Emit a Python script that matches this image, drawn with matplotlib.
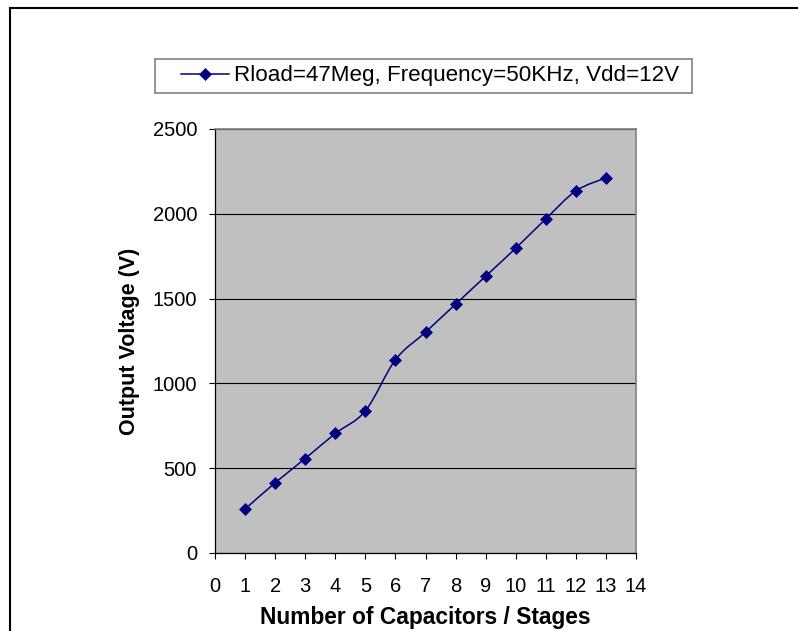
import matplotlib
matplotlib.use("Agg")
import matplotlib.pyplot as plt
from matplotlib.path import Path
from matplotlib.patches import PathPatch, Rectangle
from matplotlib.lines import Line2D

# Measured output of the multiplier for each number of stages
stages = [1, 2, 3, 4, 5, 6, 7, 8, 9, 10, 11, 12, 13]
output_voltage = [259, 414, 557, 705, 838, 1139, 1302, 1467, 1632, 1797, 1970, 2135, 2212]
series_label = "Rload=47Meg, Frequency=50KHz, Vdd=12V"
x_ticks = list(range(0, 15))
y_ticks = [0, 500, 1000, 1500, 2000, 2500]
x_title = "Number of Capacitors / Stages"
y_title = "Output Voltage (V)"

plt.rcParams['font.family'] = ['Liberation Sans', 'DejaVu Sans']

W, H = 798, 631
fig = plt.figure(figsize=(W / 100, H / 100), dpi=100)
fig.patch.set_facecolor('white')

NAVY = '#000080'


def smooth_path(xs, ys):
    """Catmull-Rom style smoothed curve through the points as cubic Beziers."""
    pts = list(zip(xs, ys))
    n = len(pts)
    verts = [pts[0]]
    codes = [Path.MOVETO]
    for i in range(n - 1):
        p0 = pts[i - 1] if i > 0 else pts[i]
        p1 = pts[i]
        p2 = pts[i + 1]
        p3 = pts[i + 2] if i + 2 < n else pts[i + 1]
        c1 = (p1[0] + (p2[0] - p0[0]) / 6.0, p1[1] + (p2[1] - p0[1]) / 6.0)
        c2 = (p2[0] - (p3[0] - p1[0]) / 6.0, p2[1] - (p3[1] - p1[1]) / 6.0)
        verts += [c1, c2, p2]
        codes += [Path.CURVE4] * 3
    return Path(verts, codes)


# Plot area
ax = fig.add_axes([215 / W, 1 - 553 / H, 421 / W, 424 / H])
ax.set_facecolor('#C0C0C0')
ax.set_xlim(0, 14)
ax.set_ylim(0, 2500)
ax.set_xticks(x_ticks)
ax.set_yticks(y_ticks)
ax.set_xticklabels([str(t) for t in x_ticks])
ax.set_yticklabels([str(t) for t in y_ticks])

ax.yaxis.grid(True, color='black', linewidth=0.8)
ax.set_axisbelow(True)

for side in ('left', 'bottom'):
    ax.spines[side].set_color('black')
    ax.spines[side].set_linewidth(0.9)
for side in ('top', 'right'):
    ax.spines[side].set_color('#808080')
    ax.spines[side].set_linewidth(1.2)

ax.tick_params(direction='out', length=4.3, width=0.8, color='black',
               labelsize=14.5, labelcolor='black')
ax.tick_params(axis='x', pad=13)
ax.tick_params(axis='y', pad=8.6)

# Smoothed series line and diamond markers
curve = PathPatch(smooth_path(stages, output_voltage), facecolor='none',
                  edgecolor=NAVY, linewidth=1.1, zorder=3)
ax.add_patch(curve)
ax.plot(stages, output_voltage, linestyle='none', marker='D', markersize=6.2,
        markerfacecolor=NAVY, markeredgecolor=NAVY, markeredgewidth=0.5,
        zorder=4)

ax.set_xlabel(x_title, fontsize=16.4, fontweight='bold', va='center')
ax.xaxis.set_label_coords(0.5, (553 - 617.4) / 424)
ax.set_ylabel(y_title, fontsize=15.5, fontweight='bold', va='center')
ax.yaxis.set_label_coords((129 - 215) / 421, 0.5)

# Legend with its own frame
fig.patches.append(Rectangle((155 / W, 1 - 93 / H), (692 - 155) / W, (93 - 59) / H,
                             transform=fig.transFigure, facecolor='white',
                             edgecolor='#808080', linewidth=1.2, zorder=1))
handle = Line2D([], [], color=NAVY, linewidth=1.1, marker='D', markersize=6.2,
                markerfacecolor=NAVY, markeredgecolor=NAVY, markeredgewidth=0.5)
fig.legend([handle], [series_label], loc='center',
           bbox_to_anchor=(430 / W, 1 - 76 / H), frameon=False,
           fontsize=16.1, handlelength=2.15, handletextpad=0.25,
           borderpad=0.0, borderaxespad=0.0)

# Outer chart border
fig.lines.append(Line2D([10 / W, 10 / W], [0, 1 - 8 / H], transform=fig.transFigure,
                        color='black', linewidth=1.5))
fig.lines.append(Line2D([10 / W, 1], [1 - 8 / H, 1 - 8 / H], transform=fig.transFigure,
                        color='black', linewidth=1.5))

fig.savefig('out.png', dpi=100, facecolor='white')
